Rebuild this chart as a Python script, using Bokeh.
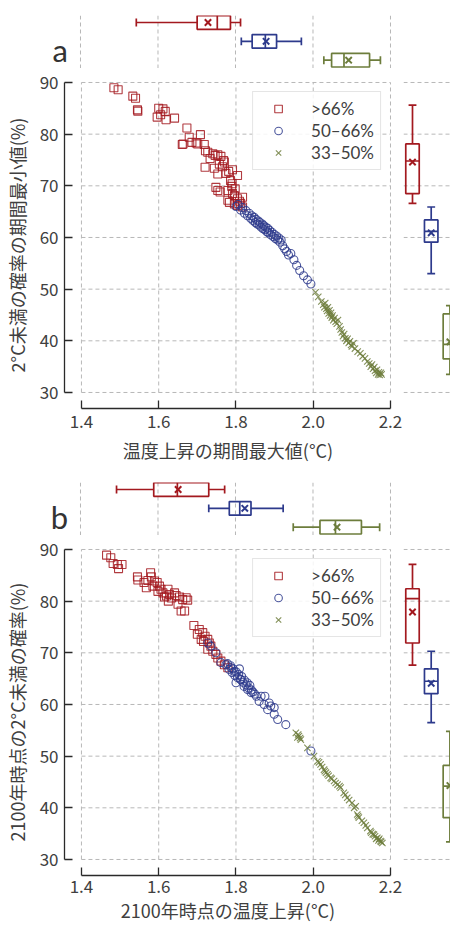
from bokeh.plotting import figure
from bokeh.models import Range1d, FixedTicker, Label, ColumnDataSource
from bokeh.layouts import column, row
from bokeh.embed import file_html
from bokeh.resources import INLINE

# ---------------- data ----------------
groups = [">66%", "50–66%", "33–50%"]
positions = [1, 2, 3]
x_ticks = [1.4, 1.6, 1.8, 2.0, 2.2]
x_tick_labels = ["1.4", "1.6", "1.8", "2.0", "2.2"]
y_ticks = [30, 40, 50, 60, 70, 80, 90]
y_tick_labels = ["30", "40", "50", "60", "70", "80", "90"]

# panel a scatter
a_red_x = [1.484, 1.495, 1.533, 1.540, 1.545, 1.546, 1.600, 1.611, 1.617, 1.596, 1.619, 1.641, 1.605,
           1.673, 1.679, 1.708, 1.661, 1.663, 1.686, 1.697, 1.701, 1.718, 1.721, 1.727, 1.740, 1.746,
           1.753, 1.761, 1.768, 1.770, 1.733, 1.757, 1.765, 1.720, 1.744, 1.753, 1.774, 1.781, 1.791,
           1.804, 1.786, 1.790, 1.798, 1.748, 1.753, 1.759, 1.779, 1.789, 1.791, 1.796, 1.804, 1.817,
           1.779, 1.783, 1.796, 1.804, 1.809, 1.812, 1.817]
a_red_y = [88.97, 88.6, 87.35, 86.96, 84.7, 84.45, 85.0, 84.9, 84.4, 83.3, 82.8, 83.1, 83.75,
           81.2, 79.4, 79.9, 78.0, 78.1, 78.4, 78.3, 78.1, 78.0, 76.8, 76.5, 76.2, 75.9,
           76.0, 75.7, 74.9, 74.6, 75.3, 74.2, 73.7, 73.6, 73.4, 72.3, 72.4, 72.8, 73.1,
           72.0, 71.0, 70.4, 69.4, 69.7, 69.1, 68.8, 69.1, 69.9, 68.5, 68.1, 67.5, 67.8,
           67.2, 66.8, 66.5, 66.2, 67.0, 66.6, 65.9]
a_blue_x = [1.800, 1.806, 1.812, 1.817, 1.822, 1.826, 1.830, 1.834, 1.838, 1.841,
            1.844, 1.847, 1.850, 1.852, 1.855, 1.858, 1.860, 1.862, 1.865, 1.868,
            1.870, 1.872, 1.875, 1.877, 1.880, 1.882, 1.884, 1.887, 1.890, 1.893,
            1.896, 1.899, 1.902, 1.905, 1.908, 1.911, 1.914, 1.917, 1.921, 1.926,
            1.931, 1.936, 1.942, 1.950, 1.957, 1.965, 1.975, 1.985, 1.994]
a_blue_y = [66.0, 66.4, 65.3, 65.8, 64.7, 65.2, 64.2, 64.7, 63.7, 64.2,
            63.3, 63.9, 62.9, 63.5, 62.6, 63.2, 62.4, 62.9, 62.0, 62.6,
            61.7, 62.3, 61.5, 62.0, 61.1, 61.8, 60.9, 61.4, 60.5, 61.0,
            60.2, 60.6, 59.8, 60.3, 59.5, 59.9, 59.1, 59.5, 58.4, 57.8,
            57.3, 56.6, 56.9, 55.7, 54.6, 53.6, 52.6, 51.8, 51.0]
a_green_x = [2.006, 2.013, 2.021, 2.026, 2.029, 2.031, 2.034, 2.036, 2.038, 2.040, 2.042, 2.044,
             2.046, 2.048, 2.050, 2.052, 2.055, 2.058, 2.061, 2.064, 2.068, 2.071, 2.074, 2.077,
             2.080, 2.083, 2.086, 2.089, 2.092, 2.095, 2.098, 2.100, 2.104, 2.108, 2.115, 2.122,
             2.128, 2.134, 2.140, 2.145, 2.149, 2.152, 2.155, 2.158, 2.160, 2.163, 2.165, 2.168,
             2.170, 2.172, 2.175, 2.177]
a_green_y = [49.4, 48.5, 47.6, 47.0, 46.5, 47.3, 46.2, 45.8, 46.5, 45.3, 45.9, 44.9,
             45.4, 44.5, 44.9, 44.0, 44.4, 43.7, 43.3, 44.0, 42.8, 42.2, 41.6, 40.9,
             41.3, 40.5, 40.0, 40.4, 39.6, 39.9, 39.2, 38.9, 39.5, 38.5, 37.9, 37.6,
             37.0, 36.6, 36.0, 35.6, 35.0, 35.4, 34.6, 34.9, 34.2, 33.8, 34.4, 33.5,
             33.9, 33.4, 33.8, 33.5]

# panel b scatter
b_red_x = [1.465, 1.476, 1.482, 1.493, 1.496, 1.505,
           1.545, 1.546, 1.562, 1.568, 1.579, 1.581, 1.589, 1.596, 1.602, 1.606, 1.611, 1.615,
           1.624, 1.628, 1.625, 1.641, 1.645, 1.654, 1.662, 1.671, 1.675, 1.650, 1.658, 1.667,
           1.691, 1.705, 1.714, 1.710, 1.720, 1.727, 1.731, 1.735, 1.727, 1.740, 1.748, 1.753,
           1.761, 1.770, 1.779, 1.572, 1.585, 1.598, 1.620, 1.633, 1.700, 1.716]
b_red_y = [88.9, 88.4, 87.3, 87.1, 86.3, 87.1,
           84.7, 84.1, 83.6, 82.6, 85.5, 84.7, 83.9, 83.6, 82.9, 82.3, 81.6, 80.8,
           82.3, 81.3, 80.0, 81.6, 81.1, 80.8, 80.3, 80.65, 80.2, 79.4, 78.1, 78.1,
           75.3, 74.5, 73.9, 72.6, 73.2, 72.6, 71.9, 71.3, 70.7, 70.3, 69.7, 69.0,
           68.4, 67.7, 67.1, 84.0, 82.9, 81.9, 81.0, 80.6, 73.6, 72.2]
b_blue_x = [1.727, 1.735, 1.748, 1.761, 1.774, 1.787, 1.796, 1.809, 1.800, 1.813,
            1.821, 1.830, 1.839, 1.865, 1.875, 1.886, 1.899, 1.860, 1.873, 1.882,
            1.890, 1.899, 1.908, 1.929, 1.994,
            1.778, 1.782, 1.786, 1.790, 1.793, 1.797, 1.801, 1.804, 1.807, 1.811,
            1.815, 1.818, 1.822, 1.826, 1.829, 1.833, 1.836, 1.840, 1.844, 1.849, 1.853]
b_blue_y = [71.9, 71.3, 70.0, 68.1, 67.7, 67.1, 66.4, 66.9, 64.2, 64.8,
            63.5, 62.9, 62.3, 61.6, 61.6, 60.3, 59.4, 60.6, 60.0, 59.0,
            59.7, 58.1, 57.1, 56.1, 51.0,
            67.9, 66.8, 67.5, 66.2, 66.9, 65.6, 66.3, 65.2, 65.8, 64.9,
            65.4, 64.3, 64.7, 63.8, 64.2, 63.2, 63.7, 62.8, 62.4, 62.0, 61.6]
b_green_x = [1.955, 1.963, 1.959, 1.968, 1.985, 2.002, 2.011, 2.019, 2.028, 2.037, 2.045, 2.054,
             2.063, 2.071, 2.079, 2.088, 2.110, 2.114, 2.118, 2.131, 2.140, 2.148, 2.157, 2.166,
             2.174, 2.179, 1.961, 1.966, 2.015, 2.023, 2.030, 2.033, 2.040, 2.048, 2.058, 2.068,
             2.083, 2.093, 2.100, 2.106, 2.116, 2.150, 2.154, 2.160, 2.163, 2.169, 2.171, 2.176,
             2.136, 2.126]
b_green_y = [54.5, 53.9, 53.6, 53.2, 51.6, 50.0, 49.0, 48.4, 47.4, 46.5, 45.8, 45.2,
             44.5, 43.9, 42.9, 41.95, 40.3, 38.7, 38.1, 37.1, 36.1, 35.5, 34.8, 34.2,
             33.55, 33.2, 54.2, 53.5, 48.8, 47.9, 47.1, 46.8, 46.2, 45.6, 44.8, 44.2,
             42.5, 41.5, 40.9, 40.0, 38.4, 35.2, 34.9, 34.5, 34.0, 33.7, 34.0, 33.4,
             36.6, 37.5]

# box statistics (top = x variable, right = y variable)
a_top_lo = [1.544, 1.815, 2.028]
a_top_q1 = [1.701, 1.843, 2.048]
a_top_med = [1.753, 1.877, 2.080]
a_top_q3 = [1.787, 1.906, 2.146]
a_top_hi = [1.813, 1.970, 2.174]
a_top_mean = [1.729, 1.879, 2.092]
a_right_lo = [66.6, 53.0, 33.5]
a_right_q1 = [68.5, 59.1, 36.5]
a_right_med = [74.8, 61.2, 39.3]
a_right_q3 = [78.1, 63.4, 45.2]
a_right_hi = [85.6, 65.9, 46.8]
a_right_mean = [74.6, 60.9, 39.8]

b_top_lo = [1.493, 1.731, 1.949]
b_top_q1 = [1.589, 1.784, 2.018]
b_top_med = [1.650, 1.811, 2.058]
b_top_q3 = [1.731, 1.840, 2.125]
b_top_hi = [1.772, 1.923, 2.172]
b_top_mean = [1.652, 1.824, 2.062]
b_right_lo = [67.6, 56.5, 33.4]
b_right_q1 = [71.9, 62.1, 38.1]
b_right_med = [80.5, 64.5, 44.2]
b_right_q3 = [82.4, 66.9, 48.2]
b_right_hi = [87.1, 70.3, 54.8]
b_right_mean = [77.9, 64.1, 44.3]

# ---------------- style ----------------
FONT = "Noto Sans CJK JP"
LATIN_FONT = "Lato"
TXT = "#404040"
AXC = "#2a2a2a"
GRID = "#b8b8b8"
COLORS = ["#A3191F", "#2D3A8C", "#6D7D3C"]
MARKERS = ["square", "circle", "x"]
BOXW = 0.72
CAPW = 0.42
LW = 1.7
FS = "17px"
FS_TITLE = "18px"

# pixel geometry helpers (layout only)
PX_PER_X = 387.5          # px per 1 degC
PX_PER_CAT = 18.85        # px per box row in the top panel
X_END = 2.2026
MAIN_X0 = X_END - 328 / PX_PER_X
TOP_X0 = X_END - 391 / PX_PER_X
TOP_GRID = (3.44, 0.629)  # extent of the dashed grid in the top panel
MAIN_TOP = 13             # room above the main frame for the "90" tick label
TOP_H = 81 - MAIN_TOP
TOP_Y = (TOP_GRID[1] + (TOP_H - 15) / PX_PER_CAT, TOP_GRID[1])
LETTER_TOP = 30           # px from figure top to the panel letter's text box


def hgrid(fig, x0, x1):
    fig.segment(x0=[x0] * len(y_ticks), y0=y_ticks, x1=[x1] * len(y_ticks), y1=y_ticks,
                line_color=GRID, line_dash="4 3", line_width=1)


def vgrid(fig, y0, y1):
    fig.segment(x0=x_ticks, y0=[y0] * len(x_ticks), x1=x_ticks, y1=[y1] * len(x_ticks),
                line_color=GRID, line_dash="4 3", line_width=1)


def style_axis(ax, label_standoff):
    ax.axis_line_color = AXC
    ax.axis_line_width = 1.3
    ax.major_tick_line_color = AXC
    ax.major_tick_line_width = 1.3
    ax.major_tick_in = 8
    ax.major_tick_out = 0
    ax.minor_tick_in = 0
    ax.minor_tick_out = 0
    ax.major_label_text_font = FONT
    ax.major_label_text_font_size = FS
    ax.major_label_text_color = TXT
    ax.axis_label_text_font = FONT
    ax.axis_label_text_font_size = FS_TITLE
    ax.axis_label_text_font_style = "normal"
    ax.axis_label_text_color = TXT
    ax.major_label_standoff = label_standoff


def box_source(lo, q1, med, q3, hi, mean):
    return ColumnDataSource(dict(
        pos=positions, lo=lo, q1=q1, med=med, q3=q3, hi=hi, mean=mean, color=COLORS,
        b0=[p - BOXW / 2 for p in positions], b1=[p + BOXW / 2 for p in positions],
        c0=[p - CAPW / 2 for p in positions], c1=[p + CAPW / 2 for p in positions]))


def make_group(letter, sx, sy, top_stats, right_stats, xlabel, ylabel, bb, xstand, xlabstand):
    xr = Range1d(MAIN_X0, X_END)
    yr = Range1d(26.9, 90.19)

    # top box plot panel (frame spans the full left margin so the panel letter fits)
    t = figure(width=450, height=TOP_H, x_range=Range1d(TOP_X0, X_END), y_range=Range1d(*TOP_Y),
               output_backend="svg", toolbar_location=None,
               x_axis_location=None, y_axis_location=None,
               min_border_left=0, min_border_right=59, min_border_top=15, min_border_bottom=0)
    t.outline_line_color = None
    t.xgrid.visible = False
    t.ygrid.visible = False
    vgrid(t, TOP_GRID[0], TOP_GRID[1])
    ts = box_source(*top_stats)
    t.segment(x0="lo", y0="pos", x1="q1", y1="pos", line_color="color", line_width=LW, source=ts)
    t.segment(x0="q3", y0="pos", x1="hi", y1="pos", line_color="color", line_width=LW, source=ts)
    t.segment(x0="lo", y0="c0", x1="lo", y1="c1", line_color="color", line_width=LW, source=ts)
    t.segment(x0="hi", y0="c0", x1="hi", y1="c1", line_color="color", line_width=LW, source=ts)
    t.hbar(y="pos", left="q1", right="q3", height=BOXW, fill_color=None,
           line_color="color", line_width=LW, source=ts)
    t.segment(x0="med", y0="b0", x1="med", y1="b1", line_color="color", line_width=LW, source=ts)
    t.scatter(x="mean", y="pos", marker="x", size=9, line_color="color", line_width=2, source=ts)
    t.add_layout(Label(x=x_ticks[0] - 12.5 / PX_PER_X, y=TOP_GRID[1] + (LETTER_TOP - 15) / PX_PER_CAT,
                       x_units="data", y_units="data",
                       text=letter, text_align="right", text_baseline="top",
                       text_font=LATIN_FONT, text_font_size="31px", text_color="#333333"))

    # main scatter panel
    m = figure(width=403, height=MAIN_TOP + 327 + bb, x_range=xr, y_range=yr,
               output_backend="svg", toolbar_location=None,
               min_border_left=63, min_border_right=12, min_border_top=MAIN_TOP, min_border_bottom=bb)
    m.outline_line_color = None
    m.xgrid.visible = False
    m.ygrid.visible = False
    hgrid(m, x_ticks[0], x_ticks[-1])
    vgrid(m, y_ticks[0], y_ticks[-1])
    for xs, ys, col, mk, g in zip(sx, sy, COLORS, MARKERS, groups):
        m.scatter(xs, ys, marker=mk, size=8 if mk != "x" else 9, fill_color=None,
                  line_color=col, line_width=1.1, line_alpha=0.85, legend_label=g)
    style_axis(m.xaxis[0], xstand)
    style_axis(m.yaxis[0], 6)
    m.xaxis.ticker = FixedTicker(ticks=x_ticks)
    m.xaxis.major_label_overrides = dict(zip(x_ticks, x_tick_labels))
    m.xaxis.bounds = (x_ticks[0], x_ticks[-1])
    m.xaxis.axis_label = xlabel
    m.xaxis.axis_label_standoff = xlabstand
    m.yaxis.ticker = FixedTicker(ticks=y_ticks)
    m.yaxis.major_label_overrides = dict(zip(y_ticks, y_tick_labels))
    m.yaxis.bounds = (y_ticks[0], y_ticks[-1])
    m.yaxis.axis_label = ylabel
    m.yaxis.axis_label_standoff = 7

    lg = m.legend[0]
    lg.location = "top_right"
    lg.margin = 10
    lg.padding = 6
    lg.spacing = 1
    lg.glyph_width = 38
    lg.glyph_height = 19
    lg.label_height = 19
    lg.label_standoff = 14
    lg.label_text_font = LATIN_FONT
    lg.label_text_font_size = FS
    lg.label_text_color = TXT
    lg.border_line_color = "#cccccc"
    lg.border_line_width = 1
    lg.background_fill_alpha = 0.85

    # right box plot panel
    r = figure(width=47, height=MAIN_TOP + 327 + bb, x_range=Range1d(0.519, 3.032), y_range=yr,
               output_backend="svg", toolbar_location=None,
               x_axis_location=None, y_axis_location=None,
               min_border_left=0, min_border_right=0, min_border_top=MAIN_TOP, min_border_bottom=bb)
    r.outline_line_color = None
    r.xgrid.visible = False
    r.ygrid.visible = False
    hgrid(r, 0.519, 3.032)
    rs = box_source(*right_stats)
    r.segment(x0="pos", y0="lo", x1="pos", y1="q1", line_color="color", line_width=LW, source=rs)
    r.segment(x0="pos", y0="q3", x1="pos", y1="hi", line_color="color", line_width=LW, source=rs)
    r.segment(x0="c0", y0="lo", x1="c1", y1="lo", line_color="color", line_width=LW, source=rs)
    r.segment(x0="c0", y0="hi", x1="c1", y1="hi", line_color="color", line_width=LW, source=rs)
    r.vbar(x="pos", bottom="q1", top="q3", width=BOXW, fill_color=None,
           line_color="color", line_width=LW, source=rs)
    r.segment(x0="b0", y0="med", x1="b1", y1="med", line_color="color", line_width=LW, source=rs)
    r.scatter(x="pos", y="mean", marker="x", size=9, line_color="color", line_width=2, source=rs)

    return column(t, row(m, r, spacing=0), spacing=0)


ga = make_group("a", [a_red_x, a_blue_x, a_green_x], [a_red_y, a_blue_y, a_green_y],
                (a_top_lo, a_top_q1, a_top_med, a_top_q3, a_top_hi, a_top_mean),
                (a_right_lo, a_right_q1, a_right_med, a_right_q3, a_right_hi, a_right_mean),
                "温度上昇の期間最大値(°C)", "2°C未満の確率の期間最小値(%)", 59, 6, 6)
gb = make_group("b", [b_red_x, b_blue_x, b_green_x], [b_red_y, b_blue_y, b_green_y],
                (b_top_lo, b_top_q1, b_top_med, b_top_q3, b_top_hi, b_top_mean),
                (b_right_lo, b_right_q1, b_right_med, b_right_q3, b_right_hi, b_right_mean),
                "2100年時点の温度上昇(°C)", "2100年時点の2°C未満の確率(%)", 50, 4, 1)

layout = column(ga, gb, spacing=0)
open("out.html", "w").write(file_html(layout, INLINE))
